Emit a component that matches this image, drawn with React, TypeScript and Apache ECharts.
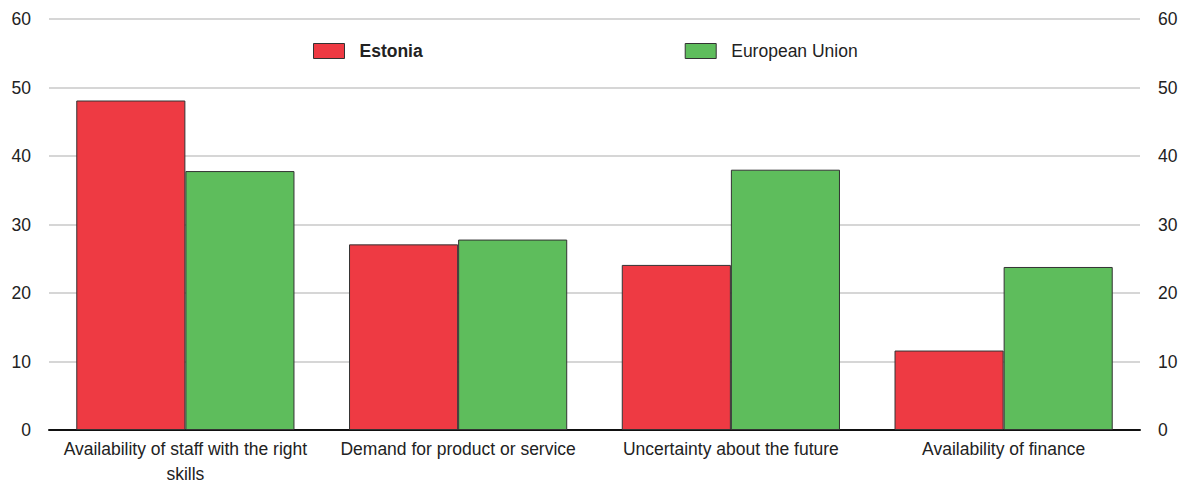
import React, { useEffect, useRef } from "react";
import * as echarts from "echarts";

const categories = [
  "Availability of staff with the right\nskills",
  "Demand for product or service",
  "Uncertainty about the future",
  "Availability of finance",
];
const estonia = [48.1, 27.1, 24.1, 11.6];
const eu = [37.8, 27.8, 38.0, 23.8];
const seriesNames = ["Estonia", "European Union"];

const FONT = "'Liberation Sans', Arial, sans-serif";
const FS = 17.5;

export default function App() {
  const ref = useRef<HTMLDivElement>(null);
  useEffect(() => {
    const chart = echarts.init(ref.current!, null, { renderer: "svg" });
    const yAxisCommon = {
      type: "value" as const,
      min: 0,
      max: 60,
      interval: 10,
      axisLine: { show: false },
      axisTick: { show: false },
      axisLabel: { color: "#222", fontSize: FS, fontFamily: FONT },
    };
    chart.setOption({
      animation: false,
      backgroundColor: "#fff",
      grid: { left: 49, right: 45, top: 19, bottom: 52, containLabel: false },
      legend: {
        data: [
          { name: seriesNames[0], icon: "rect", textStyle: { fontWeight: "bold" } },
          { name: seriesNames[1], icon: "rect" },
        ],
        top: 42,
        left: 313,
        padding: 0,
        itemWidth: 31,
        itemHeight: 15,
        itemGap: 262,
        itemStyle: { borderColor: "#333", borderWidth: 1 },
        textStyle: { color: "#222", fontSize: FS, fontFamily: FONT, padding: [0, 0, 0, 10] },
        selectedMode: false,
      },
      xAxis: {
        type: "category",
        data: categories,
        axisLine: { show: true, lineStyle: { color: "#111", width: 2 } },
        axisTick: { show: false },
        axisLabel: {
          color: "#222",
          fontSize: FS,
          fontFamily: FONT,
          interval: 0,
          margin: 6,
          lineHeight: 25,
        },
      },
      yAxis: [
        {
          ...yAxisCommon,
          position: "left",
          axisLabel: { ...yAxisCommon.axisLabel, margin: 18 },
          splitLine: { show: true, lineStyle: { color: "#d6d6d6", width: 2 } },
        },
        {
          ...yAxisCommon,
          position: "right",
          axisLabel: { ...yAxisCommon.axisLabel, margin: 18 },
          splitLine: { show: false },
        },
      ],
      series: [
        {
          name: seriesNames[0],
          type: "bar",
          data: estonia,
          barGap: "0%",
          barCategoryGap: "20%",
          itemStyle: { color: "#ee3a43", borderColor: "#333", borderWidth: 1 },
        },
        {
          name: seriesNames[1],
          type: "bar",
          data: eu,
          barGap: "0%",
          barCategoryGap: "20%",
          itemStyle: { color: "#5ebd5c", borderColor: "#333", borderWidth: 1 },
        },
      ],
    });
    return () => chart.dispose();
  }, []);
  return (
    <div
      ref={ref}
      style={{ position: "fixed", left: 0, top: 0, width: 1185, height: 486 }}
    />
  );
}
